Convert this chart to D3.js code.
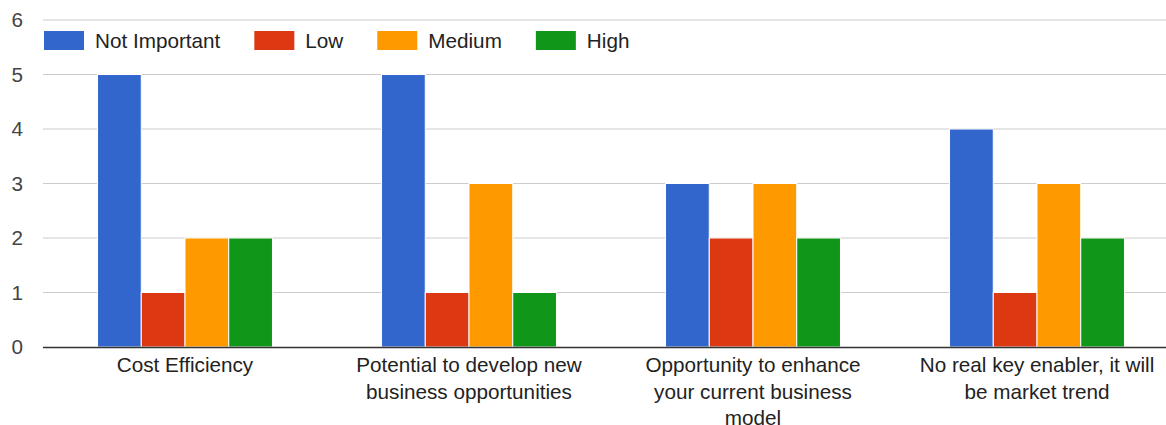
<!DOCTYPE html>
<html>
<head>
<meta charset="utf-8">
<script src="https://cdn.jsdelivr.net/npm/d3@7"></script>
<style>
  body { margin: 0; background: #fff; }
  svg { display: block; font-family: Arial, "Liberation Sans", sans-serif; }
</style>
</head>
<body>
<svg id="chart" width="1166" height="425"></svg>
<script>
const categories = [
  "Cost Efficiency",
  "Potential to develop new business opportunities",
  "Opportunity to enhance your current business model",
  "No real key enabler, it will be market trend"
];
const seriesNames = ["Not Important", "Low", "Medium", "High"];
const notImportant = [5, 5, 3, 4];
const low = [1, 1, 2, 1];
const medium = [2, 3, 3, 3];
const high = [2, 1, 2, 2];
const yTicks = [0, 1, 2, 3, 4, 5, 6];

const colors = ["#3366cc", "#dc3912", "#ff9900", "#109618"];
const series = [notImportant, low, medium, high];

const chartW = 1166;
const fontSize = 20.7;
const plotLeft = 43, plotRight = 1179, plotTop = 20, plotBottom = 347;

const svg = d3.select("#chart");

const x = d3.scaleBand().domain(categories).range([plotLeft, plotRight]).paddingInner(0.384).paddingOuter(0.192);
const xs = d3.scaleBand().domain(seriesNames).range([0, x.bandwidth()]);
const y = d3.scaleLinear().domain([0, 6]).range([plotBottom, plotTop]);

// gridlines
svg.append("g")
  .selectAll("line")
  .data(yTicks.filter(d => d !== 0))
  .enter()
  .append("line")
  .attr("x1", plotLeft)
  .attr("x2", chartW)
  .attr("y1", d => y(d))
  .attr("y2", d => y(d))
  .attr("stroke", "#cccccc")
  .attr("stroke-width", 1);

// y labels
svg.append("g")
  .selectAll("text")
  .data(yTicks)
  .enter()
  .append("text")
  .attr("x", 23)
  .attr("y", d => y(d))
  .attr("dy", "0.35em")
  .attr("text-anchor", "end")
  .attr("font-size", fontSize)
  .attr("fill", "#444")
  .text(d => d);

// bars
const groups = svg.append("g")
  .selectAll("g")
  .data(categories)
  .enter()
  .append("g")
  .attr("transform", d => `translate(${x(d)},0)`);

groups.selectAll("rect")
  .data((d, i) => seriesNames.map((s, j) => ({ s, v: series[j][i], c: colors[j] })))
  .enter()
  .append("rect")
  .attr("x", d => xs(d.s))
  .attr("y", d => y(d.v))
  .attr("width", xs.bandwidth())
  .attr("height", d => plotBottom - y(d.v))
  .attr("fill", d => d.c)
  .attr("stroke", "#fff")
  .attr("stroke-width", 1);

// baseline
svg.append("line")
  .attr("x1", plotLeft)
  .attr("x2", chartW)
  .attr("y1", plotBottom + 0.5)
  .attr("y2", plotBottom + 0.5)
  .attr("stroke", "#333")
  .attr("stroke-width", 1.3);

// x labels with wrapping
const maxW = 250;
svg.append("g")
  .selectAll("text")
  .data(categories)
  .enter()
  .append("text")
  .attr("text-anchor", "middle")
  .attr("font-size", fontSize)
  .attr("fill", "#222")
  .each(function (d) {
    const t = d3.select(this);
    const cx = x(d) + x.bandwidth() / 2;
    const words = d.split(" ");
    const lines = [];
    let line = [];
    const probe = t.append("tspan");
    words.forEach(w => {
      const test = line.concat(w).join(" ");
      probe.text(test);
      if (probe.node().getComputedTextLength() > maxW && line.length) {
        lines.push(line.join(" "));
        line = [w];
      } else {
        line.push(w);
      }
    });
    lines.push(line.join(" "));
    probe.remove();
    lines.forEach((l, i) => {
      t.append("tspan").attr("x", cx).attr("y", 372 + i * 26.5).text(l);
    });
  });

// legend
const legend = svg.append("g");
let lx = 44;
seriesNames.forEach((s, i) => {
  legend.append("rect")
    .attr("x", lx)
    .attr("y", 31)
    .attr("width", 40)
    .attr("height", 19)
    .attr("fill", colors[i]);
  const t = legend.append("text")
    .attr("x", lx + 51)
    .attr("y", 41)
    .attr("dy", "0.35em")
    .attr("font-size", fontSize)
    .attr("fill", "#222")
    .text(s);
  lx += 51 + t.node().getComputedTextLength() + 34;
});
</script>
</body>
</html>
